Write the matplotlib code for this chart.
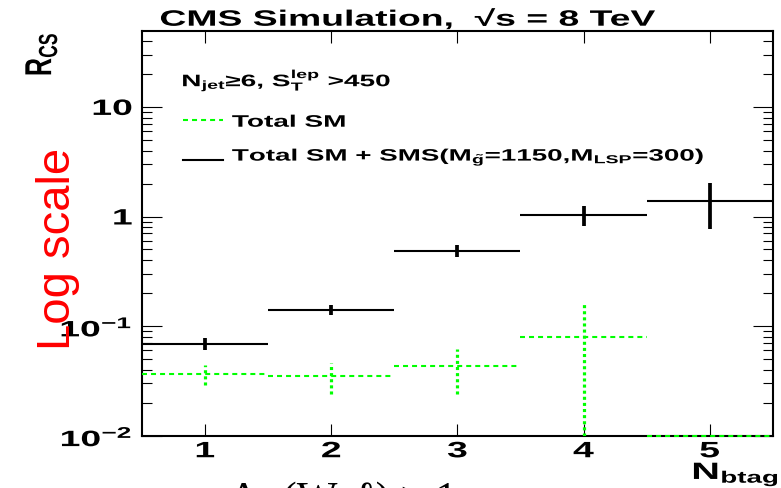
import matplotlib
matplotlib.use("Agg")

import numpy as np
import matplotlib.pyplot as plt
from matplotlib import patheffects
from matplotlib.ticker import FuncFormatter, LogLocator, NullLocator
from matplotlib.transforms import Affine2D


# =========================
# DATA
# =========================

nbtag = [1, 2, 3, 4, 5]

total_sm = [0.0366, 0.0349, 0.0430, 0.0797, 0.0]
total_sm_err = [0.0075, 0.011, 0.019, 0.082, 0.0]

sm_plus_sms = [0.069, 0.1415, 0.489, 1.04, 1.39]
sm_plus_sms_err = [0.009, 0.014, 0.058, 0.22, 0.62]

ytick_text = {0.01: r"$10^{-2}$", 0.1: r"$10^{-1}$", 1.0: "1", 10.0: "10"}


# =========================
# WIDE TEXT
# =========================

class Stretch(patheffects.AbstractPathEffect):
    """Draw text glyphs widened horizontally about a chosen edge."""

    def __init__(self, sx=1.68, anchor="left"):
        super().__init__()
        self.sx = sx
        self.anchor = anchor

    def draw_path(self, renderer, gc, tpath, affine, rgbFace=None):
        ext = tpath.get_extents(affine)
        if self.anchor == "center":
            x0 = (ext.x0 + ext.x1) / 2
        elif self.anchor == "right":
            x0 = ext.x1
        else:
            x0 = ext.x0
        wide = affine + Affine2D().translate(-x0, 0).scale(self.sx, 1).translate(x0, 0)
        renderer.draw_path(gc, tpath, wide, rgbFace)


plt.rcParams["font.family"] = ["Liberation Sans", "DejaVu Sans"]
plt.rcParams["font.weight"] = "bold"
plt.rcParams["mathtext.fontset"] = "custom"
plt.rcParams["mathtext.rm"] = "Liberation Sans:bold"
plt.rcParams["mathtext.it"] = "Liberation Sans:bold"
plt.rcParams["mathtext.bf"] = "Liberation Sans:bold"
plt.rcParams["mathtext.sf"] = "Liberation Sans:bold"
plt.rcParams["lines.scale_dashes"] = False

SX = 1.68


# =========================
# FIGURE
# =========================

fig = plt.figure(figsize=(7.81, 4.89), dpi=100)
ax = fig.add_axes([0.1818, 0.107, 0.8076, 0.827])

ax.set_yscale("log")
ax.set_xlim(0.5, 5.5)
ax.set_ylim(0.01, 49)

x = np.array(nbtag, dtype=float)
floor = ax.get_ylim()[0]

# Total SM (dashed green, dotted error bars)
sm = np.array(total_sm)
sm_err = np.array(total_sm_err)
sm_draw = np.clip(sm, floor, None)
ax.hlines(sm_draw, x - 0.5, x + 0.5, colors="#00ff00", linewidth=1.5,
          linestyles=(0, (3.6, 2.9)), zorder=4, clip_on=False)
has_err = sm_err > 0
ax.vlines(x[has_err], np.clip(sm - sm_err, floor, None)[has_err],
          (sm + sm_err)[has_err], colors="#00ff00", linewidth=2.3,
          linestyles=(0, (2.2, 2.2)), zorder=4)

# Total SM + SMS (solid black)
sig = np.array(sm_plus_sms)
sig_err = np.array(sm_plus_sms_err)
ax.hlines(sig, x - 0.5, x + 0.5, colors="black", linewidth=1.5, zorder=5)
ax.vlines(x, sig - sig_err, sig + sig_err, colors="black", linewidth=2.7, zorder=5)

# axes styling
for s in ax.spines.values():
    s.set_linewidth(1.5)

ax.set_xticks(nbtag)
ax.xaxis.set_minor_locator(NullLocator())
ax.yaxis.set_major_locator(LogLocator(base=10))
ax.yaxis.set_minor_locator(LogLocator(base=10, subs=np.arange(2, 10)))
ax.yaxis.set_major_formatter(FuncFormatter(lambda v, p: ytick_text.get(round(v, 4), "")))

ax.tick_params(axis="both", which="both", direction="in", top=True, right=True,
               width=0.8, labelsize=16)
ax.tick_params(axis="x", which="major", length=8.6, pad=4)
ax.tick_params(axis="y", which="major", length=14.4, pad=7)
ax.tick_params(axis="y", which="minor", length=7.2)

# legend block
ax.text(0.0634, 0.864, r"N$_{jet}$≥6, S$_{T}^{lep}$ >450", transform=ax.transAxes,
        fontsize=12, va="baseline", ha="left", path_effects=[Stretch(SX)])
ax.plot([0.065, 0.128], [0.7814, 0.7814], transform=ax.transAxes, color="#00ff00",
        linewidth=1.5, linestyle=(0, (3.6, 2.9)))
ax.text(0.1427, 0.764, "Total SM", transform=ax.transAxes, fontsize=12,
        va="baseline", ha="left", path_effects=[Stretch(SX)])
ax.plot([0.065, 0.128], [0.682, 0.682], transform=ax.transAxes, color="black",
        linewidth=1.5)
ax.text(0.1427, 0.680, r"Total SM + SMS(M$_{\tilde{g}}$=1150,M$_{LSP}$=300)",
        transform=ax.transAxes, fontsize=11.9, va="baseline", ha="left",
        path_effects=[Stretch(SX)])

# titles
fig.text(0.2049, 0.9454, "CMS Simulation,  √s = 8 TeV", fontsize=16.0,
         va="baseline", ha="left", path_effects=[Stretch(SX)])
fig.text(0.9974, 0.0184, r"N$_{btag}$", fontsize=17, va="baseline", ha="right",
         path_effects=[Stretch(SX, "right")])
fig.text(0.0525, 0.9325, r"R$_{CS}$", fontsize=18, rotation=90, va="top",
         ha="center", path_effects=[Stretch(1.5, "center")])

fig.text(0.074, 0.284, "Log scale", fontsize=34, rotation=90, color="#ff0000",
         fontweight="normal", va="bottom", ha="center")
fig.text(0.295, 0.016, "Δφ(W, ℓ) > 1", fontsize=31, fontweight="normal",
         family=["Liberation Serif", "DejaVu Serif"], va="top", ha="left")

for lab in ax.get_xticklabels():
    lab.set_path_effects([Stretch(SX, "center")])
for lab in ax.get_yticklabels():
    lab.set_path_effects([Stretch(SX, "right")])

fig.savefig("out.png", dpi=100)
plt.close(fig)
